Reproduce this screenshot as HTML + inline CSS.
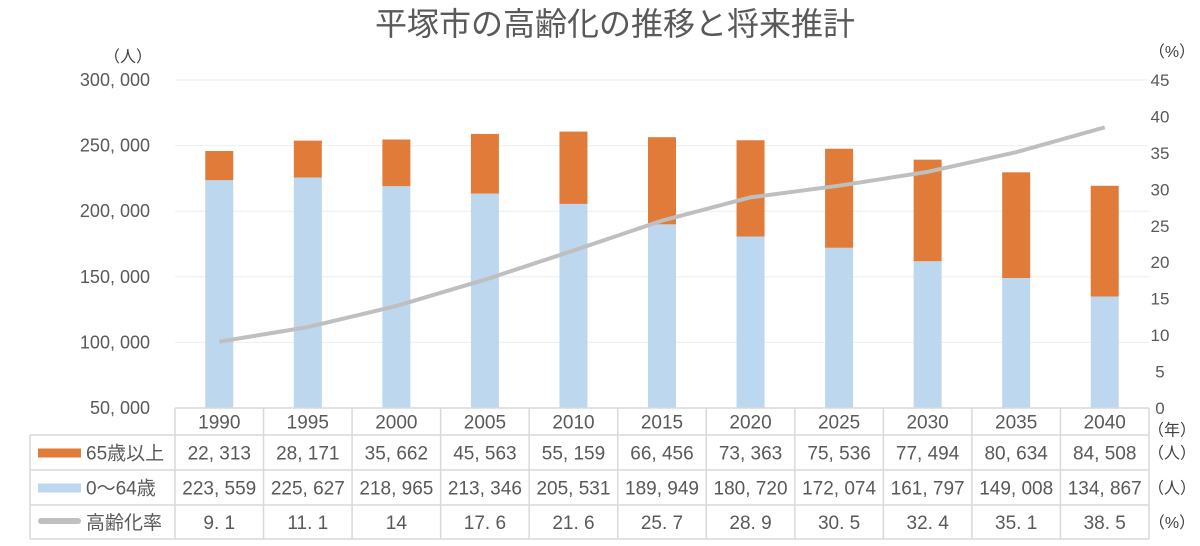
<!DOCTYPE html><html><head><meta charset="utf-8"><style>
body{margin:0;background:#fff;width:1200px;height:541px;overflow:hidden;font-family:"Liberation Sans","Noto Sans CJK JP",sans-serif}
</style></head><body>
<svg id="s" width="1200" height="541" xmlns="http://www.w3.org/2000/svg" font-family="Liberation Sans, Noto Sans CJK JP, sans-serif"></svg>
<script>
const s=document.getElementById('s');let h='';
const L=175,R=1149,cw=(R-L)/11;
const yr=[1990,1995,2000,2005,2010,2015,2020,2025,2030,2035,2040];
const old=[22313,28171,35662,45563,55159,66456,73363,75536,77494,80634,84508];
const yng=[223559,225627,218965,213346,205531,189949,180720,172074,161797,149008,134867];
const pct=[9.1,11.1,14,17.6,21.6,25.7,28.9,30.5,32.4,35.1,38.5];
const Y=v=>408-(v-50000)*328/250000, P=p=>408-p*328/45;
const f=n=>n.toLocaleString('en-US').replace(/,/g,', ');
h+=`<text x="615" y="35" text-anchor="middle" font-size="32" fill="#595959">平塚市の高齢化の推移と将来推計</text>`;
for(let i=0;i<=5;i++){let v=300000-i*50000,y=Y(v);
 if(i<5)h+=`<line x1="${L}" x2="${R}" y1="${y}" y2="${y}" stroke="#eeeeee"/>`;
 h+=`<text x="150" y="${y+6}" text-anchor="end" font-size="18" fill="#595959">${f(v)}</text>`;}
for(let i=0;i<=9;i++){h+=`<text x="1160" y="${P(45-i*5)+6}" text-anchor="middle" font-size="17" fill="#595959">${45-i*5}</text>`;}
h+=`<text x="128" y="62" text-anchor="middle" font-size="16" fill="#404040">（人）</text>`;
h+=`<text x="1172" y="57" text-anchor="middle" font-size="16" fill="#404040">（%）</text>`;
let pts=[];
yr.forEach((y,i)=>{const cx=L+cw*(i+0.5),x=cx-14;
 const yt=Y(yng[i]+old[i]),ym=Y(yng[i]);
 h+=`<rect x="${x}" y="${yt}" width="28" height="${ym-yt}" fill="#e07b39"/>`;
 h+=`<rect x="${x}" y="${ym}" width="28" height="${408-ym}" fill="#bdd7ee"/>`;
 pts.push(cx+','+P(pct[i]));
});
h+=`<polyline points="${pts.join(' ')}" fill="none" stroke="#bfbfbf" stroke-width="4" stroke-linejoin="round"/>`;
const rows=[408,435,470,505,539];
h+=`<g stroke="#d9d9d9" stroke-width="1.5" fill="none">`;
h+=`<line x1="${L}" x2="${R}" y1="408" y2="408"/>`;
for(let r=1;r<5;r++)h+=`<line x1="30" x2="${R}" y1="${rows[r]}" y2="${rows[r]}"/>`;
h+=`<line x1="30" x2="30" y1="435" y2="539"/>`;
for(let i=0;i<=11;i++)h+=`<line x1="${L+cw*i}" x2="${L+cw*i}" y1="408" y2="539"/>`;
h+=`</g>`;
const data=[yr.map(String),old.map(f),yng.map(f),pct.map(String).map(s=>s.replace('.','. '))];
data.forEach((row,r)=>row.forEach((t,i)=>{h+=`<text x="${L+cw*(i+0.5)}" y="${(rows[r]+rows[r+1])/2+7}" text-anchor="middle" font-size="19" fill="#595959">${t}</text>`;}));
const lab=['65歳以上','0〜64歳','高齢化率'],col=['#e07b39','#bdd7ee','#bfbfbf'];
lab.forEach((t,r)=>{const cy=(rows[r+1]+rows[r+2])/2;
 h+=`<rect x="38" y="${cy-4}" width="43" height="${r==2?6:9}" rx="${r==2?3:0}" fill="${col[r]}"/>`;
 h+=`<text x="86" y="${cy+7}" font-size="19" fill="#595959">${t}</text>`;});
const units=['（年）','（人）','（人）','（%）'];
units.forEach((t,r)=>{h+=`<text x="1172" y="${(rows[r]+rows[r+1])/2+(r==0?14:6)}" text-anchor="middle" font-size="16" fill="#404040">${t}</text>`;});
s.innerHTML=h;
</script></body></html>
